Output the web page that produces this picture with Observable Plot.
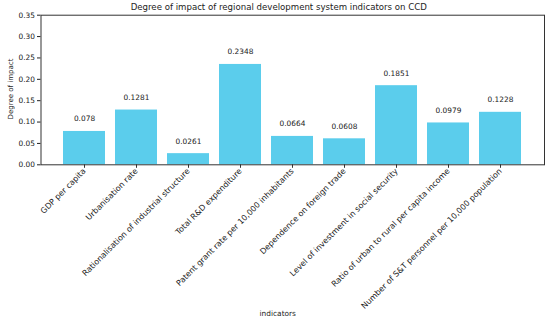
<!DOCTYPE html>
<html>
<head>
<meta charset="utf-8">
<script src="https://cdn.jsdelivr.net/npm/d3@7"></script>
<script src="https://cdn.jsdelivr.net/npm/@observablehq/plot@0.6"></script>
<style>
  html, body { margin: 0; padding: 0; background: white; }
</style>
</head>
<body>
<div id="chart"></div>
<script>
const indicators = [
  "GDP per capita",
  "Urbanisation rate",
  "Rationalisation of industrial structure",
  "Total R&D expenditure",
  "Patent grant rate per 10,000 inhabitants",
  "Dependence on foreign trade",
  "Level of investment in social security",
  "Ratio of urban to rural per capita income",
  "Number of S&T personnel per 10,000 population"
];
const impact = [0.078, 0.1281, 0.0261, 0.2348, 0.0664, 0.0608, 0.1851, 0.0979, 0.1228];
const valueLabels = ["0.078", "0.1281", "0.0261", "0.2348", "0.0664", "0.0608", "0.1851", "0.0979", "0.1228"];
const yTicks = [0, 0.05, 0.10, 0.15, 0.20, 0.25, 0.30, 0.35];
const titleText = "Degree of impact of regional development system indicators on CCD";
const xLabel = "indicators";
const yLabel = "Degree of impact";

const data = indicators.map((name, i) => ({name, value: impact[i], label: valueLabels[i]}));

const chart = Plot.plot({
  width: 550,
  height: 324,
  marginLeft: 40.5,
  marginRight: 6,
  marginTop: 14.7,
  marginBottom: 159.7,
  style: {fontFamily: "DejaVu Sans", fontSize: "7.4px", color: "#222", background: "white"},
  x: {domain: indicators, paddingInner: 0.2, paddingOuter: 0.42, align: 0.5, label: null},
  y: {domain: [0, 0.35], label: null},
  marks: [
    Plot.barY(data, {x: "name", y: "value", fill: "#5bcdec"}),
    Plot.text(data, {x: "name", y: "value", text: "label", lineAnchor: "bottom", dy: -10, fill: "#222"}),
    Plot.axisX({tickRotate: -45, tickSize: 3.5, tickPadding: 1.5, label: null, stroke: "#333", fontSize: 8}),
    Plot.axisY({ticks: yTicks, tickFormat: d3.format(".2f"), tickSize: 3.5, tickPadding: 2.5, label: null}),
    Plot.frame({stroke: "#333", strokeWidth: 1}),
    Plot.text([titleText], {text: d => d, frameAnchor: "top", lineAnchor: "bottom", dx: -14, dy: -5.7, fontSize: 8.6, fill: "#222"}),
    Plot.text([xLabel], {text: d => d, frameAnchor: "bottom", dx: -15, dy: 150.7, fill: "#222"}),
    Plot.text([yLabel], {text: d => d, frameAnchor: "left", textAnchor: "middle", rotate: -90, dx: -30.5, dy: -1, fontSize: 7, fill: "#222"})
  ]
});
document.getElementById("chart").appendChild(chart);
</script>
</body>
</html>
